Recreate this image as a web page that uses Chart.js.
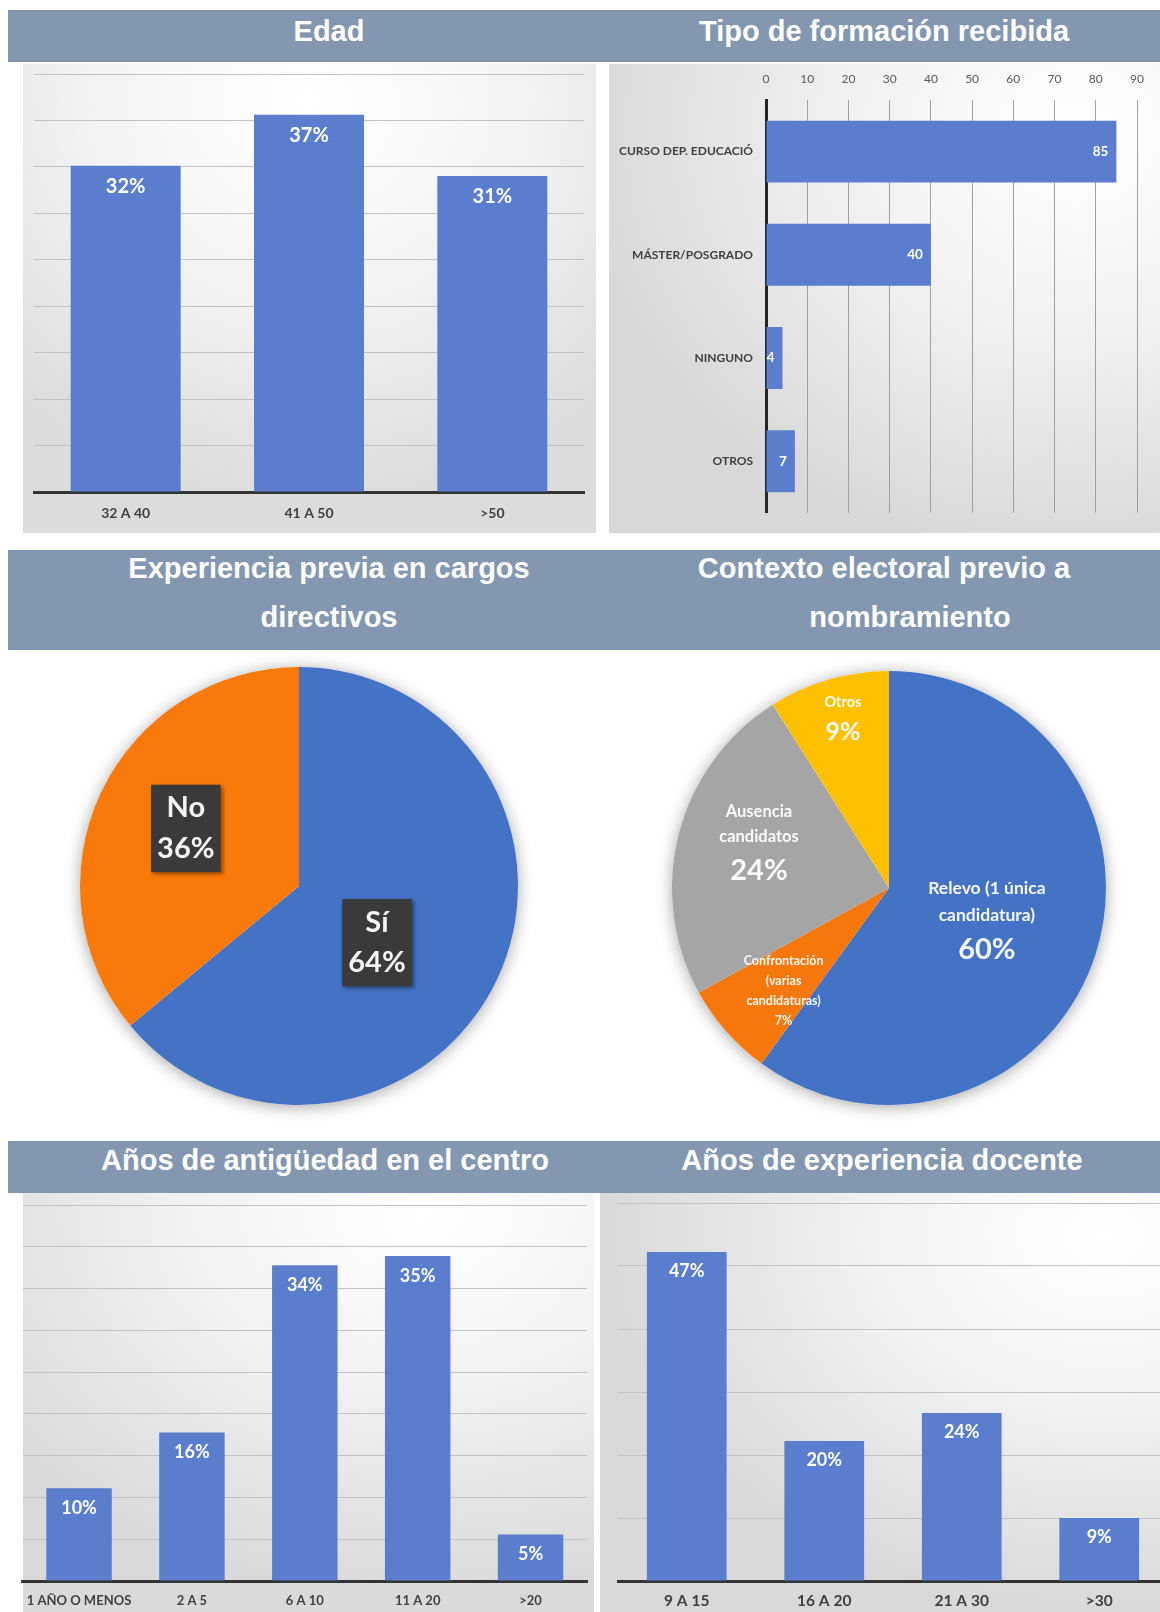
<!DOCTYPE html>
<html lang="es">
<head>
<meta charset="utf-8">
<title>Perfil de las direcciones</title>
<script src="https://cdn.jsdelivr.net/npm/chart.js@4.4.1/dist/chart.umd.min.js"></script>
<style>
  html, body { margin: 0; padding: 0; }
  body { width: 1160px; height: 1612px; overflow: hidden; position: relative; background: #fff; font-family: "Liberation Sans", Arial, sans-serif; }
  .band { position: absolute; left: 8px; width: 1152px; background: #8497b0; }
  .ttl { position: absolute; transform: translateX(-50%); color: #fff; font-weight: bold; font-size: 29px; line-height: 29px; white-space: nowrap; }
  .panel { position: absolute; }
  .box { position: absolute; }
</style>
</head>
<body>
<!-- title bands -->
<div class="band" style="top:10px;height:52px"></div>
<div class="ttl" style="left:329px;top:17px">Edad</div>
<div class="ttl" style="left:884px;top:17px">Tipo de formación recibida</div>

<div class="band" style="top:550px;height:100px"></div>
<div class="ttl" style="left:329px;top:554px">Experiencia previa en cargos</div>
<div class="ttl" style="left:329px;top:603px">directivos</div>
<div class="ttl" style="left:884px;top:554px">Contexto electoral previo a</div>
<div class="ttl" style="left:910px;top:603px">nombramiento</div>

<div class="band" style="top:1141px;height:52px"></div>
<div class="ttl" style="left:325px;top:1146px">Años de antigüedad en el centro</div>
<div class="ttl" style="left:882px;top:1146px">Años de experiencia docente</div>

<!-- chart backgrounds -->
<div class="panel" style="left:23px;top:64px;width:573px;height:469px;background:radial-gradient(ellipse 75% 85% at 50% 8%, #ffffff 0%, #f3f3f3 50%, #dcdcdc 100%)"></div>
<div class="panel" style="left:609px;top:64px;width:551px;height:469px;background:radial-gradient(ellipse 90% 90% at 85% 15%, #ffffff 0%, #f0f0f0 50%, #d8d8d8 100%)"></div>
<div class="panel" style="left:23px;top:1193px;width:571px;height:419px;background:radial-gradient(ellipse 90% 90% at 70% 5%, #ffffff 0%, #f2f2f2 45%, #dadada 100%)"></div>
<div class="panel" style="left:600px;top:1193px;width:560px;height:419px;background:radial-gradient(ellipse 90% 90% at 90% 10%, #ffffff 0%, #f2f2f2 45%, #d9d9d9 100%)"></div>

<!-- charts -->
<div class="box" style="left:23px;top:64px;width:573px;height:469px"><canvas id="edad"></canvas></div>
<div class="box" style="left:600px;top:64px;width:560px;height:469px"><canvas id="formacion"></canvas></div>
<div class="box" style="left:64px;top:651px;width:470px;height:470px"><canvas id="experiencia"></canvas></div>
<div class="box" style="left:656px;top:655px;width:466px;height:466px"><canvas id="contexto"></canvas></div>
<div class="box" style="left:14px;top:1193px;width:580px;height:419px"><canvas id="antiguedad"></canvas></div>
<div class="box" style="left:600px;top:1193px;width:580px;height:419px"><canvas id="docente"></canvas></div>

<script>
// survey results
const edadLabels = ["32 A 40", "41 A 50", ">50"];
const edadValues = [32, 37, 31];

const formacionLabels = ["CURSO DEP. EDUCACIÓ", "MÁSTER/POSGRADO", "NINGUNO", "OTROS"];
const formacionValues = [85, 40, 4, 7];

const experienciaLabels = ["Sí", "No"];
const experienciaValues = [64, 36];

const contextoLabels = [
  ["Relevo (1 única", "candidatura)"],
  ["Confrontación", "(varias", "candidaturas)"],
  ["Ausencia", "candidatos"],
  ["Otros"],
];
const contextoValues = [60, 7, 24, 9];

const antiguedadLabels = ["1 AÑO O MENOS", "2 A 5", "6 A 10", "11 A 20", ">20"];
const antiguedadValues = [10, 16, 34, 35, 5];

const docenteLabels = ["9 A 15", "16 A 20", "21 A 30", ">30"];
const docenteValues = [47, 20, 24, 9];

Chart.defaults.animation = false;
Chart.defaults.responsive = true;
Chart.defaults.maintainAspectRatio = false;
Chart.defaults.font.family = 'Lato, "Open Sans", sans-serif';
Chart.defaults.plugins.legend.display = false;
Chart.defaults.plugins.tooltip.enabled = false;

const BAR_BLUE = "#5a7dcd";
const LABEL_FONT = 'Lato, "Open Sans", sans-serif';

// white value text inside the end of each bar
const barValues = {
  id: "barValues",
  afterDatasetsDraw(chart, args, opts) {
    const { ctx } = chart;
    const values = chart.data.datasets[0].data;
    const horizontal = chart.options.indexAxis === "y";
    ctx.save();
    ctx.fillStyle = "#ffffff";
    ctx.font = `bold ${opts.size}px ${LABEL_FONT}`;
    ctx.textBaseline = "middle";
    ctx.textAlign = horizontal ? "right" : "center";
    chart.getDatasetMeta(0).data.forEach((bar, i) => {
      const text = values[i] + (opts.suffix || "");
      if (horizontal) ctx.fillText(text, bar.x - opts.offset, bar.y);
      else ctx.fillText(text, bar.x, bar.y + opts.offset);
    });
    ctx.restore();
  },
};

// soft shadow under the pie + category/percentage text on the slices
const pieDecor = {
  id: "pieDecor",
  beforeDatasetsDraw(chart) {
    const arc = chart.getDatasetMeta(0).data[0];
    const { ctx } = chart;
    ctx.save();
    ctx.shadowColor = "rgba(0,0,0,0.35)";
    ctx.shadowBlur = 16;
    ctx.shadowOffsetY = 2;
    ctx.fillStyle = "#fff";
    ctx.beginPath();
    ctx.arc(arc.x, arc.y, arc.outerRadius, 0, Math.PI * 2);
    ctx.fill();
    ctx.restore();
  },
  afterDatasetsDraw(chart, args, opts) {
    const { ctx } = chart;
    const values = chart.data.datasets[0].data;
    chart.getDatasetMeta(0).data.forEach((arc, i) => {
      const p = opts.place[i];
      const ang = (arc.startAngle + arc.endAngle) / 2 + (p.shift * Math.PI) / 180;
      const cx = arc.x + Math.cos(ang) * arc.outerRadius * p.frac;
      const cy = arc.y + Math.sin(ang) * arc.outerRadius * p.frac;
      const lines = [].concat(chart.data.labels[i]).map((t) => [t, p.nameSize]);
      lines.push([values[i] + "%", p.valueSize]);
      const hs = lines.map((l) => l[1] * p.lh);
      const total = hs.reduce((a, b) => a + b, 0);
      ctx.save();
      let w = 0;
      lines.forEach((l) => {
        ctx.font = `bold ${l[1]}px ${LABEL_FONT}`;
        w = Math.max(w, ctx.measureText(l[0]).width);
      });
      if (p.box) {
        ctx.save();
        ctx.shadowColor = "rgba(0,0,0,0.45)";
        ctx.shadowBlur = 4;
        ctx.shadowOffsetX = 2;
        ctx.shadowOffsetY = 2;
        ctx.fillStyle = "#3a3a3a";
        ctx.fillRect(cx - w / 2 - p.box, cy - total / 2 - p.box / 2, w + 2 * p.box, total + p.box);
        ctx.restore();
      }
      ctx.fillStyle = "rgba(255,255,255,0.95)";
      ctx.textAlign = "center";
      ctx.textBaseline = "middle";
      let y = cy - total / 2;
      lines.forEach((l, k) => {
        ctx.font = `bold ${l[1]}px ${LABEL_FONT}`;
        ctx.fillText(l[0], cx, y + hs[k] / 2);
        y += hs[k];
      });
      ctx.restore();
    });
  },
};

function columnChart(id, labels, values, o) {
  return new Chart(document.getElementById(id), {
    type: "bar",
    data: {
      labels: labels,
      datasets: [{ data: values, backgroundColor: BAR_BLUE, barPercentage: o.bar, categoryPercentage: 1 }],
    },
    options: {
      layout: { padding: o.pad },
      scales: {
        x: {
          grid: { display: false, drawTicks: false },
          border: { color: "#333333", width: 3 },
          ticks: { color: "#404040", font: { size: o.tickSize, weight: "bold" }, padding: o.tickPad, maxRotation: 0, autoSkip: false },
          afterFit: (s) => { s.height = o.xh; },
        },
        y: {
          min: 0,
          max: o.max,
          ticks: { display: false, count: o.lines + 1 },
          border: { display: false },
          grid: { color: (c) => (c.tick.value === 0 ? "transparent" : "#c2c2c2"), drawTicks: false },
          afterFit: (s) => { s.width = 0; },
        },
      },
      plugins: { barValues: { size: o.labelSize, offset: o.labelOffset, suffix: "%" } },
    },
    plugins: [barValues],
  });
}

columnChart("edad", edadLabels, edadValues, {
  bar: 0.6, max: 41, lines: 9, tickSize: 14, tickPad: 13, xh: 41,
  pad: { left: 11, right: 12, top: 10, bottom: 0 }, labelSize: 20, labelOffset: 21,
});

columnChart("antiguedad", antiguedadLabels, antiguedadValues, {
  bar: 0.58, max: 40.5, lines: 9, tickSize: 13, tickPad: 12, xh: 31,
  pad: { left: 8, right: 7, top: 12, bottom: 0 }, labelSize: 18, labelOffset: 20,
});

columnChart("docente", docenteLabels, docenteValues, {
  bar: 0.58, max: 54, lines: 6, tickSize: 15.5, tickPad: 11, xh: 31,
  pad: { left: 18, right: 12, top: 10, bottom: 0 }, labelSize: 18, labelOffset: 19,
});

new Chart(document.getElementById("formacion"), {
  type: "bar",
  data: {
    labels: formacionLabels,
    datasets: [{ data: formacionValues, backgroundColor: BAR_BLUE, barPercentage: 0.6, categoryPercentage: 1 }],
  },
  options: {
    indexAxis: "y",
    layout: { padding: { left: 6, right: 23, top: 0, bottom: 9 } },
    scales: {
      x: {
        position: "top",
        min: 0,
        max: 90,
        ticks: { stepSize: 10, color: "#595959", font: { size: 12 }, padding: 14 },
        border: { display: false },
        grid: { color: (c) => (c.tick.value === 0 ? "transparent" : "#a0a0a0"), drawTicks: false },
        afterFit: (s) => { s.height = 36; },
      },
      y: {
        grid: { display: false, drawTicks: false },
        border: { color: "#262626", width: 3 },
        ticks: { color: "#404040", font: { size: 12, weight: "bold" }, padding: 13 },
        afterFit: (s) => { s.width = 160; },
      },
    },
    plugins: { barValues: { size: 13.5, offset: 8 } },
  },
  plugins: [barValues],
});

new Chart(document.getElementById("experiencia"), {
  type: "pie",
  data: {
    labels: experienciaLabels,
    datasets: [{ data: experienciaValues, backgroundColor: ["#4472c4", "#f97a0a"], borderWidth: 0 }],
  },
  options: {
    layout: { padding: 16 },
    plugins: {
      pieDecor: {
        place: [
          { frac: 0.44, shift: 10.8, nameSize: 29, valueSize: 29, lh: 1.4, box: 6 },
          { frac: 0.58, shift: 1.8, nameSize: 29, valueSize: 29, lh: 1.4, box: 6 },
        ],
      },
    },
  },
  plugins: [pieDecor],
});

new Chart(document.getElementById("contexto"), {
  type: "pie",
  data: {
    labels: contextoLabels,
    datasets: [{ data: contextoValues, backgroundColor: ["#4472c4", "#f6780c", "#a5a5a5", "#ffc000"], borderWidth: 0 }],
  },
  options: {
    layout: { padding: 16 },
    plugins: {
      pieDecor: {
        place: [
          { frac: 0.48, shift: 2, nameSize: 17.5, valueSize: 29, lh: 1.5 },
          { frac: 0.68, shift: -3, nameSize: 12.5, valueSize: 12.5, lh: 1.6 },
          { frac: 0.63, shift: 3.6, nameSize: 16.5, valueSize: 29, lh: 1.5 },
          { frac: 0.8, shift: 0.8, nameSize: 14.5, valueSize: 25, lh: 1.5 },
        ],
      },
    },
  },
  plugins: [pieDecor],
});
</script>
</body>
</html>
